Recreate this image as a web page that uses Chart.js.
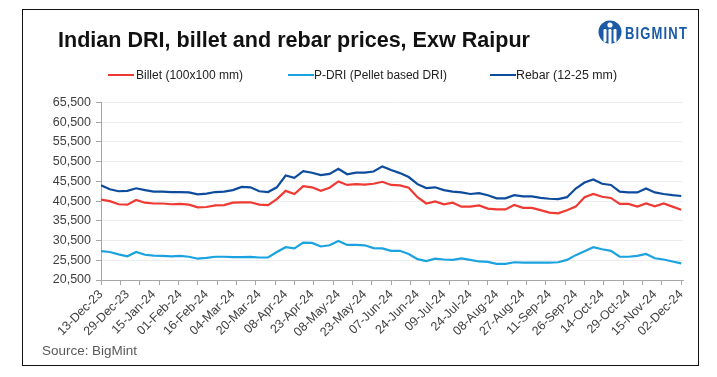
<!DOCTYPE html>
<html><head><meta charset="utf-8">
<script src="https://cdn.jsdelivr.net/npm/chart.js@4.4.1/dist/chart.umd.min.js"></script>
<style>
html,body{margin:0;padding:0;background:#fff;}
#wrap{position:relative;width:717px;height:377px;overflow:hidden;background:#fff;font-family:"Liberation Sans",Arial,sans-serif;}
#frame{position:absolute;left:22px;top:9px;width:677px;height:357px;border:1.5px solid #111;box-sizing:border-box;}
canvas{position:absolute;left:0;top:0;}
.fit{position:absolute;white-space:nowrap;transform-origin:0 50%;line-height:1;}
#title{left:58px;top:29px;font-size:22px;font-weight:bold;color:#111;}
.lg{font-size:12px;color:#222;top:69px;}
.sw{position:absolute;height:2.5px;top:73.5px;width:26px;}
#src{left:42px;top:345px;font-size:12.5px;color:#595959;}
#logoTxt{left:625px;top:25px;font-size:17px;font-weight:bold;color:#1a5aa6;letter-spacing:1.5px;}
#logoIcon{position:absolute;left:597px;top:19px;}
</style></head>
<body><div id="wrap">
<canvas id="c" width="717" height="377"></canvas>
<div id="frame"></div>
<div id="title" class="fit" data-w="472">Indian DRI, billet and rebar prices, Exw Raipur</div>
<svg id="logoIcon" width="26" height="28" viewBox="0 0 26 28">
  <circle cx="13" cy="13" r="11.5" fill="#1a5aa6"/>
  <circle cx="13" cy="6" r="2.6" fill="#fff"/>
  <rect x="6.5" y="10" width="3" height="13" rx="1.2" fill="#fff"/>
  <rect x="11.5" y="10" width="3" height="15" rx="1.2" fill="#fff"/>
  <rect x="16.5" y="10" width="3" height="13" rx="1.2" fill="#fff"/>
</svg>
<div id="logoTxt" class="fit" data-w="63">BIGMINT</div>
<div class="sw" style="left:108px;background:#ee3a33"></div>
<div class="fit lg" style="left:136px" data-w="107">Billet (100x100 mm)</div>
<div class="sw" style="left:288px;background:#1aa3e0"></div>
<div class="fit lg" style="left:314px" data-w="133">P-DRI (Pellet based DRI)</div>
<div class="sw" style="left:490px;background:#0d4c9c"></div>
<div class="fit lg" style="left:516px" data-w="101">Rebar (12-25 mm)</div>
<div id="src" class="fit" data-w="95">Source: BigMint</div>
</div>
<script>
// ---- data ----
const dateLabels = ["13-Dec-23","29-Dec-23","15-Jan-24","01-Feb-24","16-Feb-24","04-Mar-24","20-Mar-24","08-Apr-24","23-Apr-24","08-May-24","23-May-24","07-Jun-24","24-Jun-24","09-Jul-24","24-Jul-24","08-Aug-24","27-Aug-24","11-Sep-24","26-Sep-24","14-Oct-24","29-Oct-24","15-Nov-24","02-Dec-24"];
const labelEvery = 15;   // observations between date labels
const tickEvery = 11;    // observations between tick marks
const lastObs = 331;
const yTicks = [20500,25500,30500,35500,40500,45500,50500,55500,60500,65500];
const obsIndex = [0,5,10,15,20,25,30,35,40,45,50,55,60,65,70,75,80,85,90,95,100,105,110,115,120,125,130,135,140,145,150,155,160,165,170,175,180,185,190,195,200,205,210,215,220,225,230,235,240,245,250,255,260,265,270,275,280,285,290,295,300,305,310,315,320,325,330];
const billet = [40900,40500,39700,39600,40780,40100,39900,39900,39700,39800,39600,38900,39000,39400,39500,40100,40200,40200,39600,39500,41000,43100,42300,44300,44000,43100,43900,45500,44600,44800,44700,44900,45400,44600,44500,43900,41500,39900,40400,39700,40100,39100,39100,39400,38600,38400,38400,39500,38800,38800,38200,37600,37400,38200,39100,41500,42300,41600,41300,39800,39800,39100,39900,39200,39900,39100,38300];
const pdri = [27800,27600,27000,26500,27600,26900,26700,26600,26500,26600,26400,25900,26100,26400,26400,26300,26300,26350,26200,26250,27600,28800,28500,30000,29900,29000,29300,30400,29400,29400,29300,28600,28500,27900,27900,27100,25800,25300,25900,25700,25600,26000,25600,25200,25100,24600,24600,25000,24900,24900,24900,24900,25000,25600,26800,27800,28800,28300,27900,26400,26400,26600,27100,26000,25700,25200,24700];
const rebar = [44500,43500,43000,43100,43750,43300,42900,42900,42800,42800,42700,42200,42400,42800,42900,43300,44100,44000,43000,42800,44000,47000,46400,48100,47700,47100,47400,48700,47300,47700,47700,48000,49300,48400,47600,46600,44800,43800,44000,43300,42900,42700,42300,42500,42000,41200,41200,42000,41700,41700,41300,41100,41000,41500,43700,45200,46000,44900,44600,42900,42700,42700,43700,42700,42300,42000,41800];

function pts(arr){ return obsIndex.map((x,i)=>({x:x,y:arr[i]})); }

document.querySelectorAll('.fit').forEach(el=>{
  const w = el.getBoundingClientRect().width;
  const t = parseFloat(el.dataset.w);
  el.style.transform = 'scaleX(' + (t/w) + ')';
});

const xTickVals = [];
for (let v=0; v<=lastObs; v++) if (v%labelEvery===0 || v%tickEvery===0) xTickVals.push(v);

new Chart(document.getElementById('c'), {
  type:'line',
  data:{datasets:[
    {label:'Billet (100x100 mm)', data:pts(billet), borderColor:'#ee3a33', backgroundColor:'#ee3a33'},
    {label:'P-DRI (Pellet based DRI)', data:pts(pdri), borderColor:'#1aa3e0', backgroundColor:'#1aa3e0'},
    {label:'Rebar (12-25 mm)', data:pts(rebar), borderColor:'#0d4c9c', backgroundColor:'#0d4c9c'}
  ]},
  options:{
    responsive:false, animation:false, devicePixelRatio:1,
    layout:{padding:{left:0,top:102.5,right:34,bottom:0}},
    elements:{line:{borderWidth:2.2,tension:0},point:{radius:0}},
    plugins:{legend:{display:false},tooltip:{enabled:false}},
    scales:{
      x:{type:'linear',min:0,max:lastObs,
        afterFit:s=>{s.height=97;},
        afterBuildTicks:s=>{s.ticks=xTickVals.map(v=>({value:v}));},
        border:{color:'#a6a6a6',width:1},
        grid:{drawOnChartArea:false,tickLength:5,
          tickColor:ctx=> (ctx.tick && ctx.tick.value%tickEvery===0) ? '#a6a6a6' : 'rgba(0,0,0,0)'},
        ticks:{autoSkip:false,minRotation:45,maxRotation:45,padding:2,color:'#404040',
          font:{family:'"Liberation Sans", Arial, sans-serif',size:12.5},
          callback:v=> v%labelEvery===0 ? dateLabels[v/labelEvery] : ''}
      },
      y:{min:20500,max:65500,
        afterFit:s=>{s.width=101;},
        afterBuildTicks:s=>{s.ticks=yTicks.map(v=>({value:v}));},
        border:{color:'#a6a6a6',width:1},
        grid:{color:'#ededed',lineWidth:1,tickLength:5,tickColor:'#a6a6a6'},
        ticks:{padding:5,color:'#404040',font:{family:'"Liberation Sans", Arial, sans-serif',size:12.5},
          callback:v=>v.toLocaleString('en-US')}
      }
    }
  }
});
</script>
</body></html>
